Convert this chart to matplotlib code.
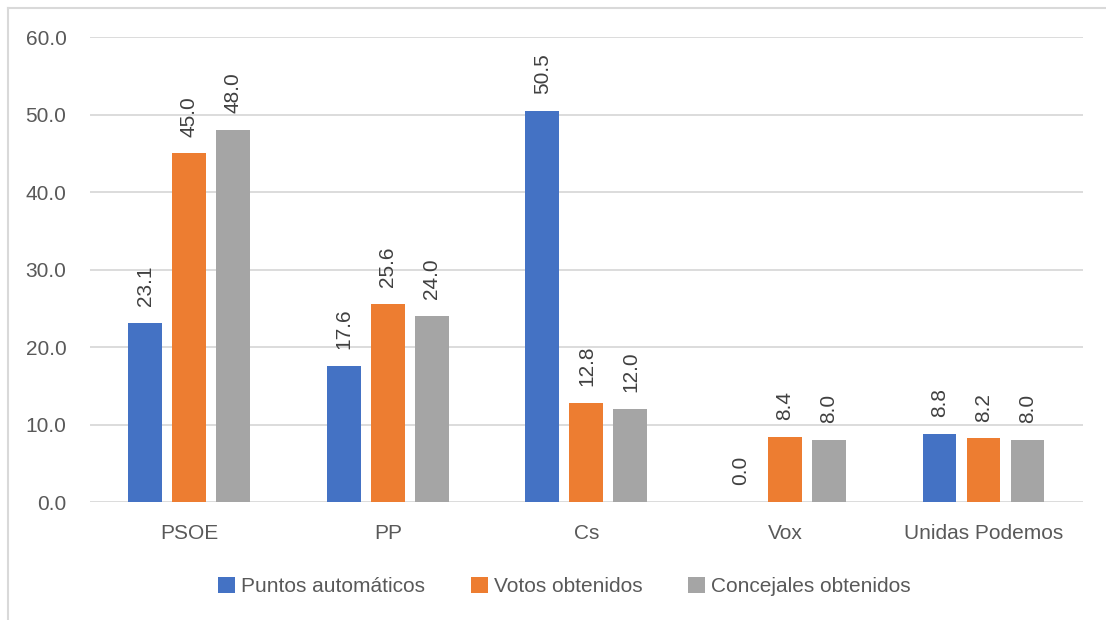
import matplotlib.pyplot as plt
import numpy as np
from matplotlib.lines import Line2D

plt.rcParams['font.family'] = ['Liberation Sans', 'DejaVu Sans']

# Data
parties = ['PSOE', 'PP', 'Cs', 'Vox', 'Unidas Podemos']
puntos = [23.1, 17.6, 50.5, 0.0, 8.8]
votos = [45.0, 25.6, 12.8, 8.4, 8.2]
concejales = [48.0, 24.0, 12.0, 8.0, 8.0]
series_names = ['Puntos automáticos', 'Votos obtenidos', 'Concejales obtenidos']
colors = ['#4472C4', '#ED7D31', '#A5A5A5']

text_color = '#595959'
grid_color = '#D9D9D9'

fig = plt.figure(figsize=(11.06, 6.2), dpi=100)
ax = fig.add_axes([0.0814, 0.1903, 0.8976, 0.75])

x = np.arange(len(parties))
width = 0.171
step = 0.2216

for i, (vals, name, c) in enumerate(zip([puntos, votos, concejales], series_names, colors)):
    pos = x + (i - 1) * step
    ax.bar(pos, vals, width, color=c, label=name, zorder=3)
    for xp, v in zip(pos, vals):
        ax.annotate(f'{v:.1f}', (xp, v), xytext=(0, 12), textcoords='offset points',
                    ha='center', va='bottom', rotation=90, fontsize=15, color='#404040')

ax.set_xlim(-0.5, len(parties) - 0.5)
ax.set_ylim(0, 60)
ax.set_yticks(np.arange(0, 61, 10))
ax.set_yticklabels([f'{t:.1f}' for t in np.arange(0, 61, 10)])
ax.set_xticks(x)
ax.set_xticklabels(parties)
ax.tick_params(axis='both', length=0, labelsize=15, labelcolor=text_color)
ax.tick_params(axis='y', pad=17)
ax.tick_params(axis='x', pad=16)
ax.grid(axis='y', color=grid_color, linewidth=1.3, zorder=0)
ax.set_axisbelow(True)
for s in ax.spines.values():
    s.set_visible(False)

ax.legend(loc='center', bbox_to_anchor=(0.478, -0.181), ncol=3, frameon=False,
          fontsize=15, labelcolor=text_color, handlelength=0.8, handleheight=0.8,
          handletextpad=0.3, columnspacing=2.2)

# outer chart border (left and top visible)
fig.add_artist(Line2D([8 / 1106, 8 / 1106], [0, 1 - 8 / 620], color=grid_color, lw=1.5))
fig.add_artist(Line2D([8 / 1106, 1], [1 - 8 / 620, 1 - 8 / 620], color=grid_color, lw=1.5))

fig.savefig('out.png', dpi=100)
